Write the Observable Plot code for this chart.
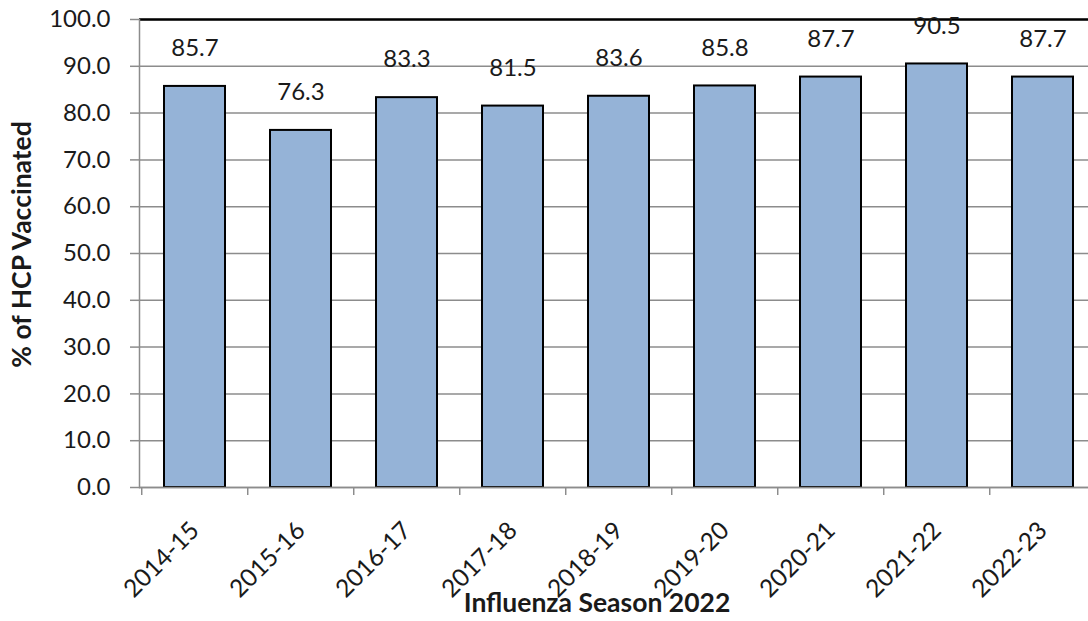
<!DOCTYPE html>
<html><head><meta charset="utf-8">
<script src="https://cdn.jsdelivr.net/npm/d3@7"></script>
<script src="https://cdn.jsdelivr.net/npm/@observablehq/plot@0.6"></script>
<style>
html,body{margin:0;padding:0;background:#fff;overflow:hidden}
#chart{width:1088px;height:621px;overflow:hidden}
#chart svg{max-width:none !important}
</style></head><body><div id="chart"></div>
<script>
const seasons = ["2014-15","2015-16","2016-17","2017-18","2018-19","2019-20","2020-21","2021-22","2022-23"];
const vaccinated = [85.7,76.3,83.3,81.5,83.6,85.8,87.7,90.5,87.7];
const yTicks = [0,10,20,30,40,50,60,70,80,90,100];
const yTitle = "% of HCP Vaccinated";
const xTitle = "Influenza Season 2022";
const data = seasons.map((s,i)=>({season:s, value:vaccinated[i]}));

const W = 1098, H = 621, ML = 139, MR = 0, MT = 19, MB = 134;
const step = (W-ML-MR)/seasons.length;
const font = "Lato, 'Open Sans', sans-serif";
const grey = "#8c8c8c", ink = "#1a1a1a";
const chart = Plot.plot({
  width: W, height: H, marginLeft: ML, marginRight: MR, marginTop: MT, marginBottom: MB,
  style: {fontFamily: font, fontSize: "24px", color: ink, background: "#fff", overflow: "visible", maxWidth: "none"},
  x: {domain: seasons, paddingInner: 0.42, paddingOuter: 0.21},
  y: {domain: [0,100]},
  marks: [
    Plot.gridY(yTicks, {stroke: grey, strokeOpacity: 1, strokeWidth: 1.5}),
    Plot.ruleY([100], {stroke: "#000", strokeWidth: 2.5}),
    Plot.barY(data, {x:"season", y:"value", fill:"#95B3D7", stroke:"#000", strokeWidth:2}),
    Plot.ruleY([0], {stroke: grey, strokeWidth:1.5}),
    Plot.frame({anchor:"left", stroke: grey, strokeWidth:1.5}),
    Plot.axisY(yTicks, {tickFormat: d=>d.toFixed(1), tickSize: 9, tickPadding: 20, stroke: grey, fill: ink, strokeWidth:1.5, label:null, fontSize:24}),
    Plot.axisX(seasons, {tickSize: 8, tickFormat: ()=>"", dx: -step/2, stroke: grey, strokeWidth:1.5, label:null}),
    Plot.axisX(seasons, {tickSize:0, tickPadding: 39, tickRotate:-45, fill: ink, label:null, fontSize: 24.5}),
    Plot.text(data, {x:"season", y:"value", text: d=>d.value.toFixed(1), dy:-38, fontSize:24, fill: ink}),
    Plot.text([yTitle], {frameAnchor:"left", textAnchor:"middle", rotate:-90, dx:-117, dy:-9, fontWeight:"bold", fontSize:26.5, fill: ink}),
    Plot.text([xTitle], {frameAnchor:"bottom", textAnchor:"middle", dx:-22, dy:124, fontWeight:"bold", fontSize:26.5, fill: ink})
  ]
});
document.getElementById("chart").append(chart);
</script></body></html>
